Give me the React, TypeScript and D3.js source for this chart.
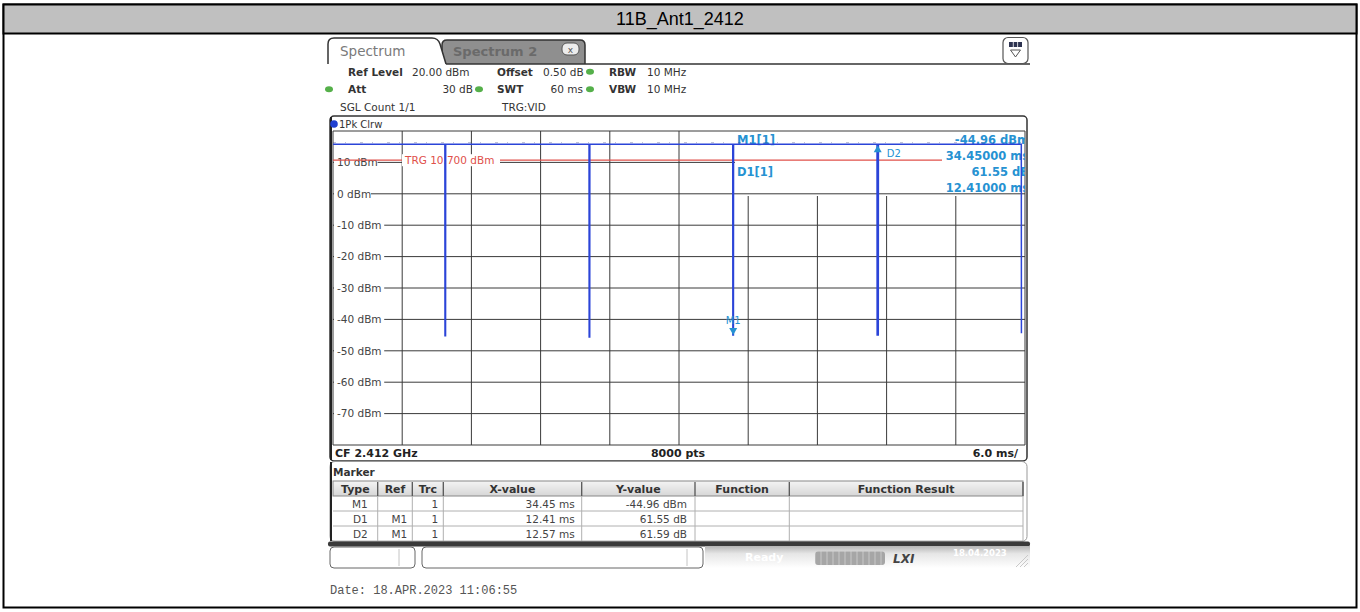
import React from "react";
import * as d3 from "d3";

// title + axis setup
const chartTitle = "11B_Ant1_2412";
const yTickDbm = [10, 0, -10, -20, -30, -40, -50, -60, -70];
const xDivMs = [0, 6, 12, 18, 24, 30, 36, 42, 48, 54, 60];
const refLevelDbm = 20;
const bottomDbm = -80;
const sweepMs = 60;

// trace (ms, dBm)
const traceMs = [0, 9.7, 9.71, 9.76, 9.77, 22.2, 22.21, 22.26, 22.27, 34.66, 34.67, 34.72, 34.73, 47.17, 47.18, 47.28, 47.29, 59.68, 59.69];
const traceDbm = [15.8, 15.8, -45.2, -45.2, 15.8, 15.8, -45.6, -45.6, 15.8, 15.8, -45.0, -45.0, 15.8, 15.8, -45.0, -45.0, 15.8, 15.8, -44.4];
const trgLevelDbm = 10.7;
const trgLabel = "TRG  10.700 dBm";

// markers in the plot
const m1Pos = { ms: 34.7, dbm: -45.0 };
const d2Pos = { ms: 47.23, dbm: 15.8 };

// marker readout in the top right box
const readoutLeft = ["M1[1]", "", "D1[1]", ""];
const readoutRight = ["-44.96 dBm", "34.45000 ms", "61.55 dB", "12.41000 ms"];

// marker table
const tableHeads = ["Type", "Ref", "Trc", "X-value", "Y-value", "Function", "Function Result"];
const markerTypes = ["M1", "D1", "D2"];
const markerRefs = ["", "M1", "M1"];
const markerTrcs = ["1", "1", "1"];
const markerX = ["34.45 ms", "12.41 ms", "12.57 ms"];
const markerY = ["-44.96 dBm", "61.55 dB", "61.59 dB"];

const dateText = "Date: 18.APR.2023  11:06:55";

const W = 1360;
const H = 612;
const plot = { left: 333, right: 1025, top: 131, bottom: 445 };
const readoutBox = { left: 735, top: 132, bottom: 196 };
const colEdges = [333, 377.7, 412.3, 443.3, 581.7, 695, 789.3, 1023];

const ui = "'DejaVu Sans', Verdana, sans-serif";
const traceBlue = "#2b44d8";
const markBlue = "#2692d2";
const trgRed = "#e0504a";
const gridCol = "#3a3a3a";

const App = () => {
  const x = d3.scaleLinear().domain([0, sweepMs]).range([plot.left, plot.right]);
  const y = d3.scaleLinear().domain([bottomDbm, refLevelDbm]).range([plot.bottom, plot.top]);

  const tracePts = traceMs.map((t, i) => [t, traceDbm[i]] as [number, number]);
  const traceLine = d3
    .line<[number, number]>()
    .x((d) => x(d[0]))
    .y((d) => y(d[1]))(tracePts);

  const m1x = x(m1Pos.ms);
  const m1y = y(m1Pos.dbm);
  const d2x = x(d2Pos.ms);
  const d2y = y(d2Pos.dbm);

  const rowTop = [496, 511, 526];

  return (
    <svg width={W} height={H} style={{ position: "absolute", left: 0, top: 0, background: "#fff" }}>
      <defs>
        <clipPath id="readClip">
          <rect x={readoutBox.left} y={plot.top} width={plot.right - readoutBox.left} height={70} />
        </clipPath>
        <linearGradient id="headGrad" x1="0" y1="0" x2="0" y2="1">
          <stop offset="0" stopColor="#f4f4f4" />
          <stop offset="1" stopColor="#d6d6d6" />
        </linearGradient>
        <linearGradient id="statusGrad" x1="0" y1="0" x2="0" y2="1">
          <stop offset="0" stopColor="#b4b4b4" />
          <stop offset="0.35" stopColor="#e6e6e6" />
          <stop offset="1" stopColor="#ffffff" />
        </linearGradient>
        <pattern id="prog" width="6" height="14" patternUnits="userSpaceOnUse">
          <rect width="6" height="14" fill="#a6a6a6" />
          <rect x="4.5" width="1" height="14" fill="#c8c8c8" />
        </pattern>
      </defs>

      {/* outer frame + title bar */}
      <rect x={3.5} y={4.5} width={1353} height={603} fill="#fff" stroke="#000" strokeWidth={2} />
      <rect x={3.5} y={4.5} width={1353} height={29} fill="#c0c0c0" stroke="#000" strokeWidth={2} />
      <text x={W / 2} y={25} textAnchor="middle" fontFamily="'Liberation Sans', Arial, sans-serif" fontSize={18} fill="#000">
        {chartTitle}
      </text>

      {/* tabs */}
      <path d="M442,64 V45 Q442,40 447,40 H580 Q585,40 585,45 V64" fill="#8f8f8f" stroke="#333" strokeWidth={1.5} />
      <text x={453} y={56} fontFamily={ui} fontWeight="bold" fontSize={13} fill="#6a6a6a">Spectrum 2</text>
      <rect x={562} y={43} width={17} height={12} rx={5} fill="#ececec" stroke="#555" strokeWidth={1} />
      <text x={570.5} y={52.5} textAnchor="middle" fontFamily={ui} fontSize={9} fill="#555">x</text>
      <path d="M328,64 V44 Q328,38 334,38 H432 Q438,38 440,44 L446,64" fill="#fff" stroke="#333" strokeWidth={1.5} />
      <text x={340} y={56} fontFamily={ui} fontSize={13.5} fill="#7a7a7a">Spectrum</text>
      <line x1={446} x2={1030} y1={64} y2={64} stroke="#333" strokeWidth={1.5} />
      <rect x={1003} y={37.5} width={25} height={26} rx={5} fill="#fff" stroke="#555" strokeWidth={1.2} />
      <rect x={1009} y={42} width={13} height={5} fill="#2d3350" />
      <line x1={1013.3} x2={1013.3} y1={42} y2={47} stroke="#fff" strokeWidth={0.8} />
      <line x1={1017.6} x2={1017.6} y1={42} y2={47} stroke="#fff" strokeWidth={0.8} />
      <path d="M1010.5,50 H1020.5 L1015.5,57 Z" fill="none" stroke="#555" strokeWidth={1} />

      {/* settings header */}
      <g fontFamily={ui} fontSize={10.5} fill="#333">
        <text x={348} y={75.5} fontWeight="bold">Ref Level</text>
        <text x={412} y={75.5}>20.00 dBm</text>
        <text x={497} y={75.5} fontWeight="bold">Offset</text>
        <text x={543} y={75.5}>0.50 dB</text>
        <text x={609} y={75.5} fontWeight="bold">RBW</text>
        <text x={647} y={75.5}>10 MHz</text>
        <text x={348} y={93} fontWeight="bold">Att</text>
        <text x={473} y={93} textAnchor="end">30 dB</text>
        <text x={497} y={93} fontWeight="bold">SWT</text>
        <text x={583} y={93} textAnchor="end">60 ms</text>
        <text x={609} y={93} fontWeight="bold">VBW</text>
        <text x={647} y={93}>10 MHz</text>
        <text x={340} y={110.5}>SGL Count 1/1</text>
        <text x={502} y={110.5}>TRG:VID</text>
      </g>
      {[[590, 71.7], [329, 89.3], [479, 89.3], [590, 89.3]].map(([cx, cy], i) => (
        <ellipse key={i} cx={cx} cy={cy} rx={4} ry={3} fill="#55b04a" />
      ))}

      {/* plot frame */}
      <rect x={330} y={116} width={697} height={345} rx={4} fill="#fff" stroke="#333" strokeWidth={1.5} />
      <line x1={331} x2={331} y1={117} y2={460} stroke="#222" strokeWidth={2} />
      <circle cx={334} cy={124} r={3.8} fill="#2040d0" />
      <text x={339} y={128} fontFamily={ui} fontSize={10} fill="#333">1Pk Clrw</text>

      {/* grid */}
      <g stroke={gridCol} strokeWidth={1}>
        {xDivMs.map((t) => (
          <line key={t} x1={x(t)} x2={x(t)} y1={x(t) > readoutBox.left && t < sweepMs ? readoutBox.bottom : plot.top} y2={plot.bottom} />
        ))}
        <line x1={plot.left} x2={plot.right} y1={plot.top} y2={plot.top} />
        <line x1={plot.left} x2={plot.right} y1={plot.bottom} y2={plot.bottom} />
        {yTickDbm.map((v) => (
          <line key={v} x1={plot.left} x2={v > 0 ? readoutBox.left : plot.right} y1={y(v)} y2={y(v)} />
        ))}
      </g>

      {/* y labels */}
      <g fontFamily={ui} fontSize={10.5} fill="#444">
        {yTickDbm.map((v) => {
          const label = `${v} dBm`;
          return (
            <g key={v}>
              <rect x={334} y={y(v) - 6} width={label.length * 6.6 + 4} height={12} fill="#fff" />
              <text x={337} y={y(v)} dy="0.36em">{label}</text>
            </g>
          );
        })}
      </g>

      {/* trigger level */}
      <line x1={plot.left} x2={942} y1={y(trgLevelDbm)} y2={y(trgLevelDbm)} stroke={trgRed} strokeWidth={1.3} />
      <rect x={402} y={y(trgLevelDbm) - 6} width={98} height={12} fill="#fff" />
      <text x={405} y={y(trgLevelDbm)} dy="0.36em" fontFamily={ui} fontSize={10.5} fill={trgRed}>{trgLabel}</text>

      {/* marker readout */}
      <g clipPath="url(#readClip)" fontFamily={ui} fontWeight="bold" fontSize={11.5} fill={markBlue}>
        {readoutRight.map((s, i) => (
          <text key={"r" + i} x={1029} y={144 + i * 16} textAnchor="end">{s}</text>
        ))}
        {readoutLeft.map((s, i) => (
          <text key={"l" + i} x={737} y={144 + i * 16}>{s}</text>
        ))}
      </g>

      {/* trace noise on the top level + trace */}
      <line x1={plot.left} x2={plot.right - 4} y1={y(16.3)} y2={y(16.3)} stroke="#3a4280" strokeWidth={1} strokeDasharray="3 9 1 14" opacity={0.35} />
      <path d={traceLine ?? ""} fill="none" stroke={traceBlue} strokeWidth={1.5} />

      {/* markers on plot */}
      <text x={m1x} y={m1y - 11} textAnchor="middle" fontFamily={ui} fontSize={10} fill={markBlue}>M1</text>
      <path d={`M${m1x - 4},${m1y - 7} H${m1x + 4} L${m1x},${m1y} Z`} fill={markBlue} />
      <path d={`M${d2x},${d2y + 1} L${d2x - 4},${d2y + 8} H${d2x + 4} Z`} fill={markBlue} />
      <text x={d2x + 9} y={d2y + 13} fontFamily={ui} fontSize={10} fill={markBlue}>D2</text>

      {/* bottom info row */}
      <g fontFamily={ui} fontWeight="bold" fontSize={11} fill="#222">
        <text x={335} y={457}>CF 2.412 GHz</text>
        <text x={678} y={457} textAnchor="middle">8000 pts</text>
        <text x={1018} y={457} textAnchor="end">6.0 ms/</text>
      </g>

      {/* marker table panel */}
      <rect x={330} y={461.5} width={697} height={80} rx={5} fill="#fff" stroke="#999" strokeWidth={1} />
      <line x1={331} x2={331} y1={462} y2={541} stroke="#222" strokeWidth={2} />
      <text x={333} y={476} fontFamily={ui} fontWeight="bold" fontSize={10.5} fill="#333">Marker</text>
      <rect x={333} y={481} width={690} height={15} fill="url(#headGrad)" stroke="#888" strokeWidth={1} />
      {rowTop.map((t) => (
        <line key={t} x1={333} x2={1023} y1={t + 15} y2={t + 15} stroke="#b0b0b0" />
      ))}
      {colEdges.slice(1).map((cx, i) => (
        <g key={i}>
          <line x1={cx} x2={cx} y1={482} y2={496} stroke="#555" strokeWidth={1.3} />
          <line x1={cx} x2={cx} y1={496} y2={541} stroke="#b0b0b0" />
        </g>
      ))}
      <g fontFamily={ui} fontWeight="bold" fontSize={11} fill="#333">
        {tableHeads.map((h, i) => (
          <text key={h} x={(colEdges[i] + colEdges[i + 1]) / 2} y={492.5} textAnchor="middle">{h}</text>
        ))}
      </g>
      <g fontFamily={ui} fontSize={10.5} fill="#444" textAnchor="end">
        {markerTypes.map((m, i) => {
          const by = rowTop[i] + 11.5;
          return (
            <g key={m}>
              <text x={colEdges[1] - 10} y={by}>{m}</text>
              <text x={colEdges[2] - 5} y={by}>{markerRefs[i]}</text>
              <text x={colEdges[3] - 5} y={by}>{markerTrcs[i]}</text>
              <text x={colEdges[4] - 7} y={by}>{markerX[i]}</text>
              <text x={colEdges[5] - 8} y={by}>{markerY[i]}</text>
            </g>
          );
        })}
      </g>

      {/* status bar */}
      <rect x={328} y={541.5} width={702} height={5} rx={2} fill="#3a3a3a" />
      <rect x={705} y={546} width={325} height={22} fill="url(#statusGrad)" />
      <rect x={330} y={547} width={85} height={21} rx={4} fill="#fff" stroke="#666" />
      <line x1={399} x2={399} y1={549} y2={566} stroke="#c4c4c4" />
      <rect x={422} y={547} width={281} height={21} rx={4} fill="#fff" stroke="#666" />
      <line x1={687} x2={687} y1={549} y2={566} stroke="#c4c4c4" />
      <text x={745} y={561} fontFamily={ui} fontWeight="bold" fontSize={11} fill="#fff">Ready</text>
      <rect x={815} y={551.5} width={70} height={13.5} rx={3} fill="url(#prog)" />
      <text x={893} y={563} fontFamily={ui} fontStyle="italic" fontWeight="bold" fontSize={12} fill="#444">LXI</text>
      <text x={953} y={556} fontFamily={ui} fontWeight="bold" fontSize={8.5} fill="#fff">18.04.2023</text>
      <g stroke="#c8c8c8" strokeWidth={1}>
        <line x1={1016} x2={1028} y1={567} y2={555} />
        <line x1={1020} x2={1028} y1={567} y2={559} />
        <line x1={1024} x2={1028} y1={567} y2={563} />
      </g>

      <text x={330} y={594} fontFamily="'Liberation Mono', 'Courier New', monospace" fontSize={12} fill="#555">{dateText}</text>
    </svg>
  );
};

export default App;
